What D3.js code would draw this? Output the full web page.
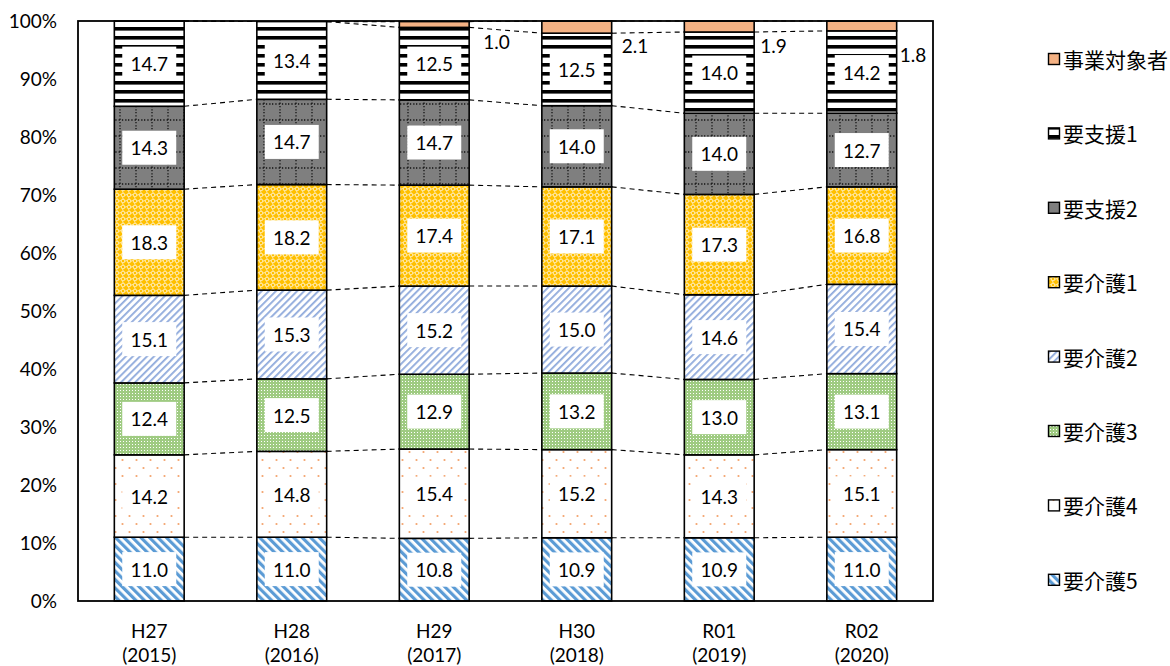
<!DOCTYPE html>
<html>
<head>
<meta charset="utf-8">
<script src="https://cdn.jsdelivr.net/npm/d3@7"></script>
<style>
  html, body { margin: 0; padding: 0; background: #fff; }
  svg { display: block; }
</style>
</head>
<body>
<svg id="chart" width="1170" height="666"></svg>
<script>
// Share of certified persons by care level (%), stacked to 100%
const categories = ["H27", "H28", "H29", "H30", "R01", "R02"];
const years = ["(2015)", "(2016)", "(2017)", "(2018)", "(2019)", "(2020)"];
const seriesNames = ["要介護5", "要介護4", "要介護3", "要介護2", "要介護1", "要支援2", "要支援1", "事業対象者"];

const kaigo5 = [11.0, 11.0, 10.8, 10.9, 10.9, 11.0];
const kaigo4 = [14.2, 14.8, 15.4, 15.2, 14.3, 15.1];
const kaigo3 = [12.4, 12.5, 12.9, 13.2, 13.0, 13.1];
const kaigo2 = [15.1, 15.3, 15.2, 15.0, 14.6, 15.4];
const kaigo1 = [18.3, 18.2, 17.4, 17.1, 17.3, 16.8];
const shien2 = [14.3, 14.7, 14.7, 14.0, 14.0, 12.7];
const shien1 = [14.7, 13.4, 12.5, 12.5, 14.0, 14.2];
const jigyo  = [0, 0, 1.0, 2.1, 1.9, 1.8];

const yTicks = [0, 10, 20, 30, 40, 50, 60, 70, 80, 90, 100];

const seriesValues = [kaigo5, kaigo4, kaigo3, kaigo2, kaigo1, shien2, shien1, jigyo];

// build rows for d3.stack
const rows = categories.map((c, i) => {
  const r = { cat: c };
  seriesNames.forEach((s, k) => { r[s] = seriesValues[k][i]; });
  return r;
});
const stacked = d3.stack().keys(seriesNames)(rows);

const svg = d3.select("#chart");
const plot = { left: 78, right: 933, top: 21, bottom: 601 };
const numFont = "Lato, 'Liberation Sans', sans-serif";

const x = d3.scaleBand().domain(categories)
  .range([plot.left, plot.right]).paddingInner(0.51).paddingOuter(0.255);
const y = d3.scaleLinear().domain([0, 100]).range([plot.bottom, plot.top]).clamp(true);
const bw = x.bandwidth();

// ---- fill patterns ----
const defs = svg.append("defs");

function pat(id, w, h, transform) {
  const p = defs.append("pattern").attr("id", id)
    .attr("patternUnits", "userSpaceOnUse").attr("width", w).attr("height", h);
  if (transform) p.attr("patternTransform", transform);
  return p;
}

// 要介護5: wide downward diagonal, blue
{
  const p = pat("p-k5", 6, 6, "rotate(-45)");
  p.append("rect").attr("width", 6).attr("height", 6).attr("fill", "#fff");
  p.append("rect").attr("width", 3.2).attr("height", 6).attr("fill", "#5b9bd5");
}
// 要介護4: scattered orange dots on white
{
  const p = pat("p-k4", 14, 16);
  p.append("rect").attr("width", 14).attr("height", 16).attr("fill", "#fff");
  p.append("circle").attr("cx", 3.5).attr("cy", 4).attr("r", 1.1).attr("fill", "#f4a46e");
  p.append("circle").attr("cx", 10.5).attr("cy", 12).attr("r", 1.1).attr("fill", "#f4a46e");
}
// 要介護3: fine green grid with white points
{
  const p = pat("p-k3", 3, 3);
  p.append("rect").attr("width", 3).attr("height", 3).attr("fill", "#9fcb82");
  p.append("rect").attr("width", 1).attr("height", 1).attr("fill", "#fff");
}
// 要介護2: light upward diagonal, pale blue
{
  const p = pat("p-k2", 5, 5, "rotate(45)");
  p.append("rect").attr("width", 5).attr("height", 5).attr("fill", "#fff");
  p.append("rect").attr("width", 1.8).attr("height", 5).attr("fill", "#8faadc");
}
// 要介護1: gold trellis with white diamonds
{
  const p = pat("p-k1", 6, 6);
  p.append("rect").attr("width", 6).attr("height", 6).attr("fill", "#ffc000");
  p.append("path").attr("d", "M3,0.6 L5.4,3 L3,5.4 L0.6,3 Z").attr("fill", "none")
    .attr("stroke", "#fff").attr("stroke-width", 1);
}
// 要支援2: gray with black dotted grid
{
  const p = pat("p-s2", 16, 16);
  p.append("rect").attr("width", 16).attr("height", 16).attr("fill", "#7f7f7f");
  p.append("line").attr("x1", 8).attr("x2", 8).attr("y1", 0).attr("y2", 16)
    .attr("stroke", "#111").attr("stroke-width", 1.3).attr("stroke-dasharray", "1.3,2");
  p.append("line").attr("x1", 0).attr("x2", 16).attr("y1", 8).attr("y2", 8)
    .attr("stroke", "#111").attr("stroke-width", 1.3).attr("stroke-dasharray", "1.3,2");
}
// 要支援1: wide horizontal black/white stripes
{
  const p = pat("p-s1", 8, 9);
  p.append("rect").attr("width", 8).attr("height", 9).attr("fill", "#fff");
  p.append("rect").attr("y", 0).attr("width", 8).attr("height", 3.6).attr("fill", "#000");
}

const fills = {
  "要介護5": "url(#p-k5)",
  "要介護4": "url(#p-k4)",
  "要介護3": "url(#p-k3)",
  "要介護2": "url(#p-k2)",
  "要介護1": "url(#p-k1)",
  "要支援2": "url(#p-s2)",
  "要支援1": "url(#p-s1)",
  "事業対象者": "#f4b183"
};

// ---- y axis labels ----
const yAxis = svg.append("g").attr("transform", `translate(${plot.left},0)`)
  .call(d3.axisLeft(y).tickValues(yTicks).tickFormat(d => d + "%").tickSize(0).tickPadding(21));
yAxis.select(".domain").remove();
yAxis.selectAll("text")
  .attr("font-family", numFont)
  .attr("font-size", 19).attr("fill", "#000");

// ---- x axis labels (two lines) ----
const xl = svg.append("g");
categories.forEach((c, i) => {
  const cx = x(c) + bw / 2;
  const t = xl.append("text").attr("x", cx).attr("text-anchor", "middle")
    .attr("font-family", numFont)
    .attr("font-size", 19).attr("fill", "#000");
  t.append("tspan").attr("x", cx).attr("y", 638).text(c);
  t.append("tspan").attr("x", cx).attr("y", 662).text(years[i]);
});

// ---- series lines between bars ----
const lines = svg.append("g").attr("stroke", "#000").attr("stroke-width", 1.1)
  .attr("stroke-dasharray", "5,4").attr("fill", "none");
stacked.forEach(layer => {
  for (let i = 0; i < categories.length - 1; i++) {
    lines.append("line")
      .attr("x1", x(categories[i]) + bw).attr("y1", y(layer[i][1]))
      .attr("x2", x(categories[i + 1])).attr("y2", y(layer[i + 1][1]));
  }
});

// ---- bars ----
const bars = svg.append("g");
stacked.forEach(layer => {
  bars.append("g").selectAll("rect")
    .data(layer.filter(d => d[1] - d[0] > 0))
    .join("rect")
    .attr("x", d => x(d.data.cat))
    .attr("width", bw)
    .attr("y", d => y(d[1]))
    .attr("height", d => y(d[0]) - y(d[1]))
    .attr("fill", fills[layer.key])
    .attr("stroke", "#000").attr("stroke-width", 1.6);
});

// ---- plot frame ----
svg.append("rect")
  .attr("x", plot.left).attr("y", plot.top)
  .attr("width", plot.right - plot.left).attr("height", plot.bottom - plot.top)
  .attr("fill", "none").attr("stroke", "#000").attr("stroke-width", 1.8);

// ---- data labels ----
const labels = svg.append("g")
  .attr("font-family", numFont).attr("font-size", 19);
stacked.forEach(layer => {
  if (layer.key === "事業対象者") return;
  layer.forEach(d => {
    const v = d[1] - d[0];
    const cx = x(d.data.cat) + bw / 2;
    const cy = (y(d[0]) + y(d[1])) / 2;
    labels.append("rect").attr("x", cx - 27).attr("y", cy - 17)
      .attr("width", 54).attr("height", 34).attr("fill", "#fff");
    labels.append("text").attr("x", cx).attr("y", cy)
      .attr("text-anchor", "middle").attr("dominant-baseline", "central")
      .attr("fill", "#000").text(d3.format(".1f")(v));
  });
});

// 事業対象者 values sit outside, to the right of each bar
const calloutDx = [0, 0, 14, 10, 6, 3];
const calloutDy = [0, 0, 14, 12, 13, 24];
const topLayer = stacked[stacked.length - 1];
topLayer.forEach((d, i) => {
  const v = jigyo[i];
  if (v <= 0) return;
  labels.append("text")
    .attr("x", x(d.data.cat) + bw + calloutDx[i])
    .attr("y", y(d[0]) + calloutDy[i])
    .attr("dominant-baseline", "central")
    .attr("fill", "#000").text(d3.format(".1f")(v));
});

// ---- legend ----
const legend = svg.append("g");
const legendOrder = seriesNames.slice().reverse();
legendOrder.forEach((name, i) => {
  const ly = 59 + i * 74.4;
  legend.append("rect").attr("x", 1048.5).attr("y", ly - 5.5)
    .attr("width", 11).attr("height", 11)
    .attr("fill", fills[name]).attr("stroke", "#000").attr("stroke-width", 1.4);
  legend.append("text").attr("x", 1063).attr("y", ly)
    .attr("dominant-baseline", "central")
    .attr("font-family", "'Noto Sans CJK JP', sans-serif")
    .attr("font-size", 21).attr("fill", "#000").text(name);
});
</script>
</body>
</html>
